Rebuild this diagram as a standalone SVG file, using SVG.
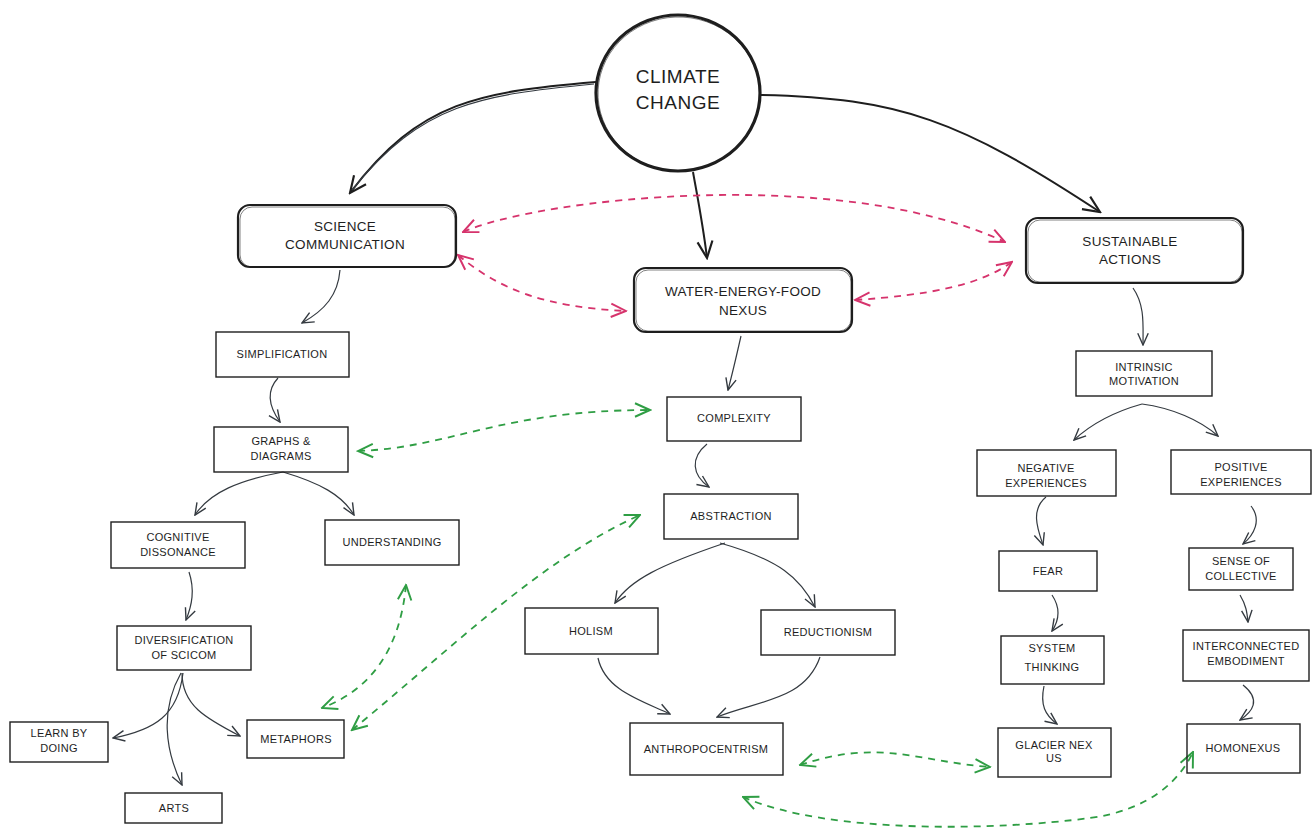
<svg xmlns="http://www.w3.org/2000/svg" width="1313" height="831" viewBox="0 0 1313 831">
<style>
.bg{fill:#ffffff}
.box{fill:none;stroke:#1e1e1e;stroke-width:1.4}
.box2{fill:none;stroke:#1e1e1e;stroke-width:0.7;opacity:0.8}
.big{fill:none;stroke:#1e1e1e;stroke-width:2.2}
.circ{fill:none;stroke:#1e1e1e;stroke-width:3.2}
.t{font-family:"Liberation Sans",Arial,sans-serif;font-size:11px;fill:#1e1e1e;text-anchor:middle;letter-spacing:0.3px}
.tm{font-family:"Liberation Sans",Arial,sans-serif;font-size:13.5px;fill:#1e1e1e;text-anchor:middle;letter-spacing:0.3px}
.tb{font-family:"Liberation Sans",Arial,sans-serif;font-size:19px;fill:#1e1e1e;text-anchor:middle;letter-spacing:0.5px}
.c{fill:none;stroke:#343a40;stroke-width:1.2}
.cb{fill:none;stroke:#1e1e1e;stroke-width:2}
.r{fill:none;stroke:#d6336c;stroke-width:1.8;stroke-dasharray:7 6}
.g{fill:none;stroke:#2f9e44;stroke-width:1.8;stroke-dasharray:7 6}
</style>
<defs>
<marker id="ak" viewBox="0 0 12 12" refX="11" refY="6" markerWidth="14" markerHeight="14" orient="auto-start-reverse" markerUnits="userSpaceOnUse"><path d="M1,1.5 L11,6 L1,10.5" fill="none" stroke="#343a40" stroke-width="1.2"/></marker>
<marker id="akb" viewBox="0 0 12 12" refX="11" refY="6" markerWidth="20" markerHeight="20" orient="auto-start-reverse" markerUnits="userSpaceOnUse"><path d="M1,1.5 L11,6 L1,10.5" fill="none" stroke="#1e1e1e" stroke-width="1.3"/></marker>
<marker id="ar" viewBox="0 0 12 12" refX="11" refY="6" markerWidth="18" markerHeight="18" orient="auto-start-reverse" markerUnits="userSpaceOnUse"><path d="M1,1.5 L11,6 L1,10.5" fill="none" stroke="#d6336c" stroke-width="1.3"/></marker>
<marker id="ag" viewBox="0 0 12 12" refX="11" refY="6" markerWidth="18" markerHeight="18" orient="auto-start-reverse" markerUnits="userSpaceOnUse"><path d="M1,1.5 L11,6 L1,10.5" fill="none" stroke="#2f9e44" stroke-width="1.3"/></marker>
</defs>
<rect class="bg" x="0" y="0" width="1313" height="831"/>

<g id="connectors">
<path class="cb" d="M596,82 C480,92 420,100 350,193" marker-end="url(#akb)"/>
<path class="c" d="M594,84 C480,95 422,103 352,190"/>
<path class="cb" d="M693,172 C698,200 703,225 707,258" marker-end="url(#akb)"/>
<path class="cb" d="M760,95 C900,98 960,120 1100,212" marker-end="url(#akb)"/>
<path class="c" d="M340,270 C338,295 325,310 302,323" marker-end="url(#ak)"/>
<path class="c" d="M278,378 C265,392 270,408 280,422" marker-end="url(#ak)"/>
<path class="c" d="M283,472 C240,480 210,492 195,515" marker-end="url(#ak)"/>
<path class="c" d="M283,472 C320,483 342,495 354,515" marker-end="url(#ak)"/>
<path class="c" d="M189,572 C195,590 192,605 186,620" marker-end="url(#ak)"/>
<path class="c" d="M183,673 C178,715 155,730 113,738" marker-end="url(#ak)"/>
<path class="c" d="M181,673 C160,710 165,750 182,785" marker-end="url(#ak)"/>
<path class="c" d="M182,673 C182,705 205,718 240,736" marker-end="url(#ak)"/>
<path class="c" d="M741,336 C736,358 732,375 728,390" marker-end="url(#ak)"/>
<path class="c" d="M707,444 C690,458 692,475 709,487" marker-end="url(#ak)"/>
<path class="c" d="M725,543 C660,565 630,580 615,603" marker-end="url(#ak)"/>
<path class="c" d="M720,543 C780,560 800,578 815,607" marker-end="url(#ak)"/>
<path class="c" d="M598,658 C605,690 640,700 670,714" marker-end="url(#ak)"/>
<path class="c" d="M820,657 C805,700 760,700 717,717" marker-end="url(#ak)"/>
<path class="c" d="M1133,288 C1145,305 1143,325 1143,345" marker-end="url(#ak)"/>
<path class="c" d="M1142,404 C1110,413 1090,425 1074,440" marker-end="url(#ak)"/>
<path class="c" d="M1142,404 C1172,408 1200,420 1218,436" marker-end="url(#ak)"/>
<path class="c" d="M1046,497 C1030,510 1038,530 1043,545" marker-end="url(#ak)"/>
<path class="c" d="M1251,506 C1262,520 1254,535 1243,544" marker-end="url(#ak)"/>
<path class="c" d="M1052,595 C1062,610 1058,622 1052,631" marker-end="url(#ak)"/>
<path class="c" d="M1240,595 C1246,605 1247,612 1248,622" marker-end="url(#ak)"/>
<path class="c" d="M1044,686 C1040,705 1045,715 1057,724" marker-end="url(#ak)"/>
<path class="c" d="M1243,685 C1262,700 1252,712 1240,720" marker-end="url(#ak)"/>

<path class="r" d="M463,232 C540,198 840,165 1005,242" marker-start="url(#ar)" marker-end="url(#ar)"/>
<path class="r" d="M458,255 C500,290 545,307 626,311" marker-start="url(#ar)" marker-end="url(#ar)"/>
<path class="r" d="M855,300 C930,295 980,285 1012,262" marker-start="url(#ar)" marker-end="url(#ar)"/>

<path class="g" d="M358,451 C450,448 500,410 650,410" marker-start="url(#ag)" marker-end="url(#ag)"/>
<path class="g" d="M406,585 C400,650 370,690 322,708" marker-start="url(#ag)" marker-end="url(#ag)"/>
<path class="g" d="M352,730 C450,650 540,560 640,515" marker-start="url(#ag)" marker-end="url(#ag)"/>
<path class="g" d="M800,765 C880,738 920,762 990,767" marker-start="url(#ag)" marker-end="url(#ag)"/>
<path class="g" d="M743,797 C830,835 1000,830 1090,818 C1150,810 1180,780 1193,752" marker-start="url(#ag)" marker-end="url(#ag)"/>
</g>

<g id="climate-change">
<ellipse class="circ" cx="678" cy="93" rx="82" ry="78"/>
<ellipse class="box2" cx="679" cy="94" rx="81" ry="77" transform="rotate(3 679 94)"/>
<text class="tb" x="678" y="83">CLIMATE</text>
<text class="tb" x="678" y="109">CHANGE</text>
</g>

<g id="science-communication">
<rect class="big" x="238" y="205" width="218" height="62" rx="12"/>
<rect class="box2" x="240" y="207" width="215" height="60" rx="12"/>
<text class="tm" x="345" y="231">SCIENCE</text>
<text class="tm" x="345" y="249">COMMUNICATION</text>
</g>

<g id="wef-nexus">
<rect class="big" x="634" y="268" width="218" height="64" rx="12"/>
<rect class="box2" x="636" y="270" width="215" height="61" rx="12"/>
<text class="tm" x="743" y="296">WATER-ENERGY-FOOD</text>
<text class="tm" x="743" y="315">NEXUS</text>
</g>

<g id="sustainable-actions">
<rect class="big" x="1026" y="218" width="217" height="65" rx="12"/>
<rect class="box2" x="1028" y="220" width="214" height="62" rx="12"/>
<text class="tm" x="1130" y="246">SUSTAINABLE</text>
<text class="tm" x="1130" y="264">ACTIONS</text>
</g>

<g id="simplification"><rect class="box" x="216" y="332" width="133" height="45"/><text class="t" x="282" y="358">SIMPLIFICATION</text></g>
<g id="graphs-diagrams"><rect class="box" x="214" y="427" width="134" height="45"/><text class="t" x="281" y="445">GRAPHS &amp;</text><text class="t" x="281" y="460">DIAGRAMS</text></g>
<g id="cognitive-dissonance"><rect class="box" x="111" y="522" width="134" height="46"/><text class="t" x="178" y="541">COGNITIVE</text><text class="t" x="178" y="556">DISSONANCE</text></g>
<g id="understanding"><rect class="box" x="325" y="520" width="134" height="45"/><text class="t" x="392" y="546">UNDERSTANDING</text></g>
<g id="diversification"><rect class="box" x="117" y="626" width="134" height="44"/><text class="t" x="184" y="644">DIVERSIFICATION</text><text class="t" x="184" y="659">OF SCICOM</text></g>
<g id="learn-by-doing"><rect class="box" x="10" y="722" width="98" height="40"/><text class="t" x="59" y="737">LEARN BY</text><text class="t" x="59" y="752">DOING</text></g>
<g id="arts"><rect class="box" x="125" y="793" width="97" height="30"/><text class="t" x="174" y="812">ARTS</text></g>
<g id="metaphors"><rect class="box" x="247" y="720" width="97" height="38"/><text class="t" x="296" y="743">METAPHORS</text></g>

<g id="complexity"><rect class="box" x="667" y="397" width="134" height="44"/><text class="t" x="734" y="422">COMPLEXITY</text></g>
<g id="abstraction"><rect class="box" x="664" y="494" width="134" height="45"/><text class="t" x="731" y="520">ABSTRACTION</text></g>
<g id="holism"><rect class="box" x="525" y="608" width="133" height="46"/><text class="t" x="591" y="635">HOLISM</text></g>
<g id="reductionism"><rect class="box" x="761" y="610" width="134" height="45"/><text class="t" x="828" y="636">REDUCTIONISM</text></g>
<g id="anthropocentrism"><rect class="box" x="630" y="723" width="153" height="52"/><text class="t" x="706" y="753">ANTHROPOCENTRISM</text></g>

<g id="intrinsic-motivation"><rect class="box" x="1076" y="351" width="136" height="45"/><text class="t" x="1144" y="371">INTRINSIC</text><text class="t" x="1144" y="385">MOTIVATION</text></g>
<g id="negative-experiences"><rect class="box" x="977" y="450" width="139" height="46"/><text class="t" x="1046" y="472">NEGATIVE</text><text class="t" x="1046" y="487">EXPERIENCES</text></g>
<g id="positive-experiences"><rect class="box" x="1171" y="450" width="140" height="44"/><text class="t" x="1241" y="471">POSITIVE</text><text class="t" x="1241" y="486">EXPERIENCES</text></g>
<g id="fear"><rect class="box" x="999" y="551" width="98" height="40"/><text class="t" x="1048" y="575">FEAR</text></g>
<g id="sense-of-collective"><rect class="box" x="1189" y="548" width="104" height="42"/><text class="t" x="1241" y="565">SENSE OF</text><text class="t" x="1241" y="580">COLLECTIVE</text></g>
<g id="system-thinking"><rect class="box" x="1001" y="636" width="103" height="48"/><text class="t" x="1052" y="652">SYSTEM</text><text class="t" x="1052" y="671">THINKING</text></g>
<g id="interconnected-embodiment"><rect class="box" x="1183" y="630" width="126" height="51"/><text class="t" x="1246" y="650">INTERCONNECTED</text><text class="t" x="1246" y="665">EMBODIMENT</text></g>
<g id="glacier-nexus"><rect class="box" x="998" y="728" width="113" height="49"/><text class="t" x="1054" y="749">GLACIER NEX</text><text class="t" x="1054" y="762">US</text></g>
<g id="homonexus"><rect class="box" x="1187" y="724" width="113" height="49"/><text class="t" x="1243" y="752">HOMONEXUS</text></g>
</svg>
